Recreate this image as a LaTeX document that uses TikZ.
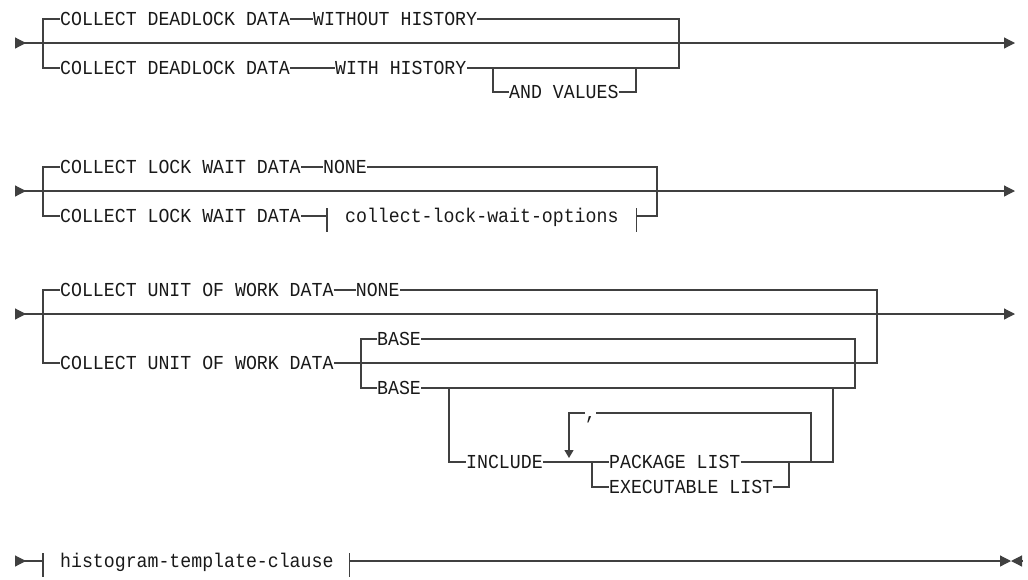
\documentclass[tikz,border=0pt]{standalone}
\usepackage{fontspec}
\setmonofont[FakeStretch=0.92]{Liberation Mono}
\usetikzlibrary{arrows.meta, positioning}

\begin{document}
\begin{tikzpicture}[
    x=1pt, y=-1pt,
    node distance=22pt,
    kw/.style={inner sep=0pt, anchor=west, text height=13pt, text depth=0pt, font=\ttfamily\fontsize{19.8pt}{22pt}\selectfont, text=black!90},
    rail/.style={draw=black!75, line width=1.2pt},
    flow/.style={rail, {Triangle[reversed, length=11pt, width=11pt]}-{Triangle[length=11pt, width=11pt]}},
    tip/.style={rail, -{Triangle[length=11pt, width=11pt]}},
    start/.style={rail, {Triangle[reversed, length=11pt, width=11pt]}-},
    repeat/.style={rail, -{Triangle[length=8pt, width=9pt]}}
]
\useasboundingbox (0,0) rectangle (1028,579);

% 1. Deadlock data
\coordinate (s1) at (15,43);
\coordinate (e1) at (1015,43);
\coordinate (a1) at (43,43);
\coordinate (b1) at (679,43);
\node[kw] (dl1) at (60,19) {COLLECT DEADLOCK DATA};
\node[kw, right=23pt of dl1] (woh) {WITHOUT HISTORY};
\node[kw] (dl2) at (60,68) {COLLECT DEADLOCK DATA};
\node[kw, right=45pt of dl2] (wh) {WITH HISTORY};
\coordinate (c1) at (493,68);
\coordinate (d1) at (636,68);
\node[kw] (av) at (509,92) {AND VALUES};

\draw[flow] (s1) -- (e1);
\draw[rail] (dl1.west) -| (a1) |- (dl2.west);
\draw[rail] (dl1.east) -- (woh.west);
\draw[rail] (dl2.east) -- (wh.west);
\draw[rail] (woh.east) -| (b1) |- (wh.east);
\draw[rail] (c1) |- (av.west);
\draw[rail] (av.east) -| (d1);

% 2. Lock wait data
\coordinate (s2) at (15,191);
\coordinate (e2) at (1015,191);
\coordinate (a2) at (43,191);
\coordinate (b2) at (657,191);
\node[kw] (lw1) at (60,167) {COLLECT LOCK WAIT DATA};
\node[kw, right=of lw1] (none2) {NONE};
\node[kw] (lw2) at (60,216) {COLLECT LOCK WAIT DATA};
\coordinate (fl2) at (327,216);
\node[kw, right=18pt of fl2] (frag2) {collect-lock-wait-options};
\coordinate[right=18pt of frag2] (fr2);

\draw[flow] (s2) -- (e2);
\draw[rail] (lw1.west) -| (a2) |- (lw2.west);
\draw[rail] (lw1.east) -- (none2.west);
\draw[rail] (none2.east) -| (b2) |- (fr2);
\draw[rail] (lw2.east) -- (fl2);
\draw[rail] (fl2) ++(0,-8) -- ++(0,24);
\draw[rail] (fr2) ++(0,-8) -- ++(0,24);

% 3. Unit of work data
\coordinate (s3) at (15,314);
\coordinate (e3) at (1015,314);
\coordinate (a3) at (43,314);
\coordinate (b3) at (877,314);
\node[kw] (uw1) at (60,290) {COLLECT UNIT OF WORK DATA};
\node[kw, right=of uw1] (none3) {NONE};
\node[kw] (uw2) at (60,363) {COLLECT UNIT OF WORK DATA};

\draw[flow] (s3) -- (e3);
\draw[rail] (uw1.west) -| (a3) |- (uw2.west);
\draw[rail] (uw1.east) -- (none3.west);
\draw[rail] (none3.east) -| (b3) |- (uw2.east);

% BASE choice
\coordinate (g3l) at (361,363);
\coordinate (g3r) at (855,363);
\node[kw] (base1) at (377,339) {BASE};
\node[kw] (base2) at (377,388) {BASE};
\draw[rail] (base1.west) -| (g3l) |- (base2.west);
\draw[rail] (base1.east) -| (g3r) |- (base2.east);

% INCLUDE with repeated list
\coordinate (h3) at (449,388);
\coordinate (q3) at (833,388);
\node[kw] (inc) at (466,462) {INCLUDE};
\coordinate (k3) at (592,462);
\node[kw] (pkg) at (609,462) {PACKAGE LIST};
\node[kw] (exe) at (609,487) {EXECUTABLE LIST};
\coordinate (m3) at (789,462);
\coordinate (n3) at (811,462);
\coordinate (p3) at (833,462);
\node[kw] (comma) at (585,413) {,};
\coordinate (r3) at (569,458);

\draw[rail] (h3) |- (inc.west);
\draw[rail] (inc.east) -- (k3) |- (exe.west);
\draw[rail] (k3) -- (pkg.west);
\draw[rail] (exe.east) -| (m3);
\draw[rail] (pkg.east) -- (p3) -- (q3);
\draw[rail] (n3) |- (comma.east);
\draw[repeat] (comma.west) -| (r3);

% 4. Histogram template
\coordinate (s4) at (15,561);
\coordinate (fl4) at (43,561);
\node[kw, right=17pt of fl4] (htc) {histogram-template-clause};
\coordinate[right=16pt of htc] (fr4);
\coordinate (t4) at (1011,561);
\coordinate (u4) at (1022,561);

\draw[start] (s4) -- (fl4);
\draw[rail] (fl4) ++(0,-8) -- ++(0,24);
\draw[rail] (fr4) ++(0,-8) -- ++(0,24);
\draw[tip] (fr4) -- (t4);
\draw[tip] (u4) -- (t4);

\end{tikzpicture}
\end{document}
